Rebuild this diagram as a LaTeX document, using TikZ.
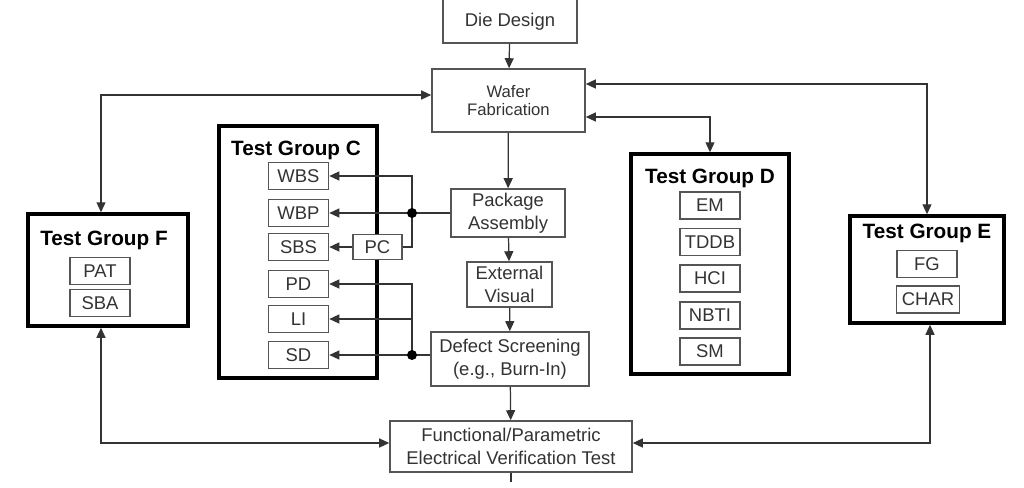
\documentclass[tikz,border=0pt]{standalone}
\usepackage{fontspec}
\setmainfont{Liberation Sans}
\usetikzlibrary{arrows.meta}
\definecolor{boxgray}{HTML}{555555}
\definecolor{txtgray}{HTML}{333333}
\definecolor{linegray}{HTML}{333333}

\begin{document}
\begin{tikzpicture}[x=0.02cm,y=-0.02cm,
    font=\fontsize{10.5}{13}\selectfont,
    flow/.style={draw=boxgray,line width=0.9pt,text=txtgray,fill=white,inner sep=0pt,align=center},
    group/.style={draw=black,line width=2pt,inner sep=0pt},
    item/.style={draw=boxgray,line width=0.9pt,text=txtgray,fill=white,inner sep=0pt,minimum width=1.2cm,minimum height=0.54cm},
    title/.style={font=\fontsize{11.8}{14}\selectfont\bfseries,text=black},
    wire/.style={draw=linegray,line width=0.7pt},
    arr/.style={wire,-{Triangle[length=2mm,width=1.8mm]}},
    twoway/.style={wire,{Triangle[length=2mm,width=1.8mm]}-{Triangle[length=2mm,width=1.8mm]}},
    dot/.style={circle,fill=black,inner sep=0pt,minimum size=0.2cm}]
    \useasboundingbox (0,0) rectangle (1024,487);

    \node[flow,minimum width=2.68cm,text height=0.79cm,text depth=0.33cm] (die) at (510,15) {Die Design};
    \node[flow,minimum width=3.06cm,minimum height=1.26cm,font=\fontsize{9.5}{10.5}\selectfont] (wafer) at (508.5,100.5) {Wafer\\Fabrication};
    \node[flow,minimum width=2.28cm,minimum height=0.96cm] (pkg) at (508,213) {Package\\Assembly};
    \node[flow,minimum width=1.70cm,minimum height=0.90cm] (ext) at (509.5,284.5) {External\\Visual};
    \node[flow,minimum width=3.16cm,minimum height=1.08cm] (defect) at (510,359) {Defect Screening\\(e.g., Burn-In)};
    \node[flow,minimum width=4.84cm,minimum height=1.02cm] (func) at (511,446.5) {Functional/Parametric\\Electrical Verification Test};

    \node[group,minimum width=3.20cm,minimum height=2.24cm] (grpF) at (108,270) {};
    \node[title] (titleF) at (104,240) {Test Group F};
    \node[item] (pat) at (100,271) {PAT};
    \node[item] (sba) at (100,303) {SBA};

    \node[group,minimum width=3.16cm,minimum height=5.04cm] (grpC) at (298,252) {};
    \node[title] (titleC) at (296,150) {Test Group C};
    \node[item] (wbs) at (298.5,176) {WBS};
    \node[item] (wbp) at (298.5,213) {WBP};
    \node[item] (sbs) at (298.5,247) {SBS};
    \node[item] (pd) at (298.5,284) {PD};
    \node[item] (li) at (298.5,319) {LI};
    \node[item] (sd) at (298.5,355) {SD};
    \node[flow,minimum width=0.98cm,minimum height=0.50cm] (pc) at (377.5,247) {PC};

    \node[group,minimum width=3.16cm,minimum height=4.40cm] (grpD) at (710,264) {};
    \node[title] (titleD) at (710,178) {Test Group D};
    \node[item] (em) at (710,205.5) {EM};
    \node[item] (tddb) at (710,242) {TDDB};
    \node[item] (hci) at (710,278.5) {HCI};
    \node[item] (nbti) at (710,315.5) {NBTI};
    \node[item] (sm) at (710,351.5) {SM};

    \node[group,minimum width=3.08cm,minimum height=2.14cm] (grpE) at (927,269.5) {};
    \node[title] (titleE) at (927,233) {Test Group E};
    \node[item] (fg) at (927,264) {FG};
    \node[item,minimum width=1.26cm] (char) at (928,299.5) {CHAR};

    \coordinate (fTop) at (101,95);
    \coordinate (fBot) at (101,443);
    \coordinate (eTop) at (927,84);
    \coordinate (eBot) at (930,443);
    \coordinate (dTop) at (710,117);
    \coordinate (cbus) at (412,0);

    \draw[arr] (die) -- (wafer);
    \draw[arr] (wafer) -- (pkg);
    \draw[arr] (pkg) -- (ext);
    \draw[arr] (ext) -- (defect);
    \draw[arr] (defect) -- (func);
    \draw[wire] (func.south) -- ++(0,9);

    \draw[twoway] (fTop |- grpF.north) -- (fTop) -- (fTop -| wafer.west);
    \draw[twoway] (eTop -| wafer.east) -- (eTop) -- (eTop |- grpE.north);
    \draw[twoway] (dTop -| wafer.east) -- (dTop) -- (dTop |- grpD.north);
    \draw[twoway] (fBot |- grpF.south) -- (fBot) -- (fBot -| func.west);
    \draw[twoway] (eBot |- grpE.south) -- (eBot) -- (eBot -| func.east);

    \draw[arr] (pc.east) -- (pc.east -| cbus) |- (wbs.east);
    \draw[arr] (pkg.west |- wbp) -- (wbp.east);
    \draw[arr] (pc.west) -- (sbs.east);
    \node[dot] (dotUp) at (wbp -| cbus) {};

    \draw[arr] (defect.west |- sd) -- (sd.east);
    \draw[arr] (sd -| cbus) |- (pd.east);
    \draw[arr] (li -| cbus) -- (li.east);
    \node[dot] (dotLow) at (sd -| cbus) {};
\end{tikzpicture}
\end{document}
